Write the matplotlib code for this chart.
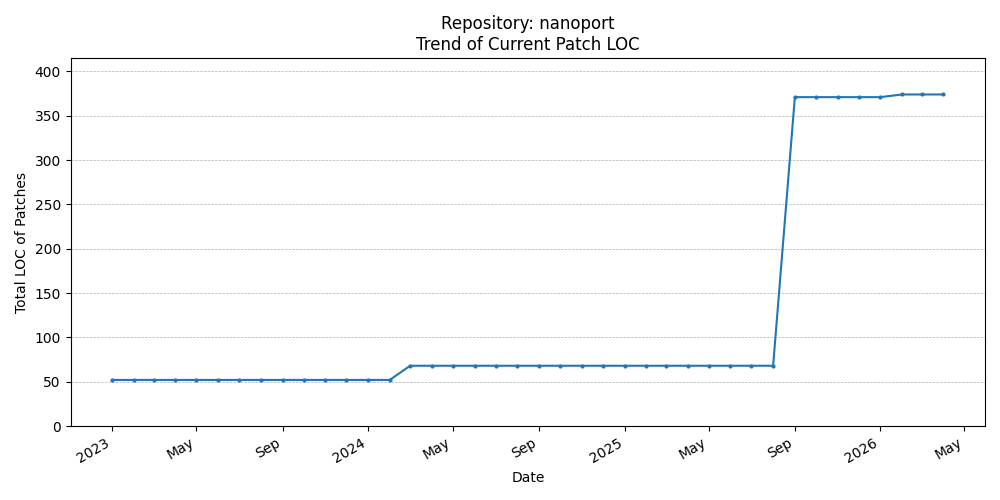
import matplotlib
matplotlib.use("Agg")
import matplotlib.pyplot as plt
import matplotlib.dates as mdates
import pandas as pd

dates = pd.date_range("2023-01-01", "2026-04-01", freq="MS")
loc = [52]*14 + [68]*18 + [371]*5 + [374]*3

fig, ax = plt.subplots(figsize=(10, 5), dpi=100)
ax.plot(dates, loc, marker="o", markersize=2, color="#1f77b4")
ax.set_title("Repository: nanoport\nTrend of Current Patch LOC")
ax.set_xlabel("Date")
ax.set_ylabel("Total LOC of Patches")
ax.set_ylim(0, 415)
ax.grid(axis="y", linestyle="--", linewidth=0.5)
loc_ = mdates.AutoDateLocator()
ax.xaxis.set_major_locator(loc_)
ax.xaxis.set_major_formatter(mdates.ConciseDateFormatter(loc_))
fig.autofmt_xdate()
fig.tight_layout()
fig.savefig("out.png")
